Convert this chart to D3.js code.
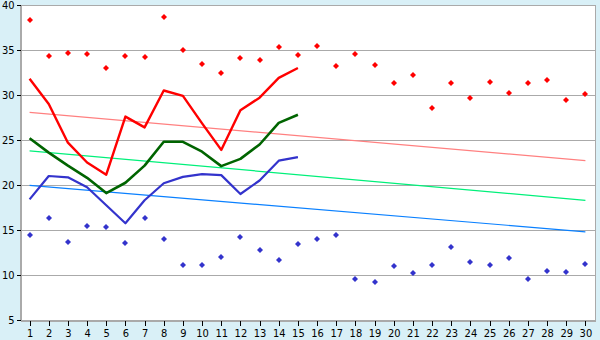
<!DOCTYPE html>
<html>
<head>
<meta charset="utf-8">
<script src="https://cdn.jsdelivr.net/npm/d3@7"></script>
<style>
  body { margin: 0; background: #d9f0f7; }
  svg { display: block; }
  .tick text { font-family: "DejaVu Sans Condensed", "DejaVu Sans", sans-serif; font-size: 11px; fill: #000; }
</style>
</head>
<body>
<div id="chart"></div>
<script>
// days on the x axis
var days = d3.range(1, 31);

// scattered highs and lows (30 days)
var highPoints = [38.3, 34.3, 34.7, 34.6, 33.0, 34.3, 34.2, 38.7, 35.0, 33.4,
                  32.5, 34.1, 33.85, 35.3, 34.5, 35.5, 33.2, 34.6, 33.3, 31.3,
                  32.2, 28.6, 31.3, 29.7, 31.5, 30.2, 31.3, 31.7, 29.4, 30.1];
var lowPoints = [14.5, 16.3, 13.7, 15.5, 15.3, 13.6, 16.3, 14.0, 11.1, 11.1,
                 11.97, 14.2, 12.75, 11.63, 13.5, 13.97, 14.4, 9.52, 9.2, 10.97,
                 10.2, 11.1, 13.1, 11.4, 11.1, 11.85, 9.6, 10.4, 10.3, 11.2];

// lines for the first 15 days
var redLine = [31.8, 29.0, 24.7, 22.5, 21.15, 27.6, 26.4, 30.5, 29.9, 26.85,
               23.9, 28.3, 29.7, 31.9, 33.0];
var greenLine = [25.2, 23.6, 22.15, 20.8, 19.1, 20.25, 22.15, 24.8, 24.8, 23.7,
                 22.1, 22.9, 24.5, 26.9, 27.8];
var blueLine = [18.4, 21.0, 20.85, 19.75, 17.75, 15.75, 18.3, 20.2, 20.9, 21.2,
                21.1, 19.0, 20.5, 22.7, 23.1];

// trend lines: value at day 1 and day 30
var trendDays = [1, 30];
var redTrend = [28.07, 22.7];
var greenTrend = [23.8, 18.3];
var blueTrend = [19.95, 14.8];

var yTicks = [5, 10, 15, 20, 25, 30, 35, 40];

var width = 600, height = 340;
var margin = {top: 5, right: 5, bottom: 20, left: 20};

var svg = d3.select("#chart").append("svg")
    .attr("width", width)
    .attr("height", height);

var x = d3.scaleLinear()
    .domain([0.5, 30.5])
    .range([margin.left, width - margin.right]);
var y = d3.scaleLinear()
    .domain([5, 40])
    .range([height - margin.bottom, margin.top]);

// plot background
svg.append("rect")
    .attr("x", margin.left)
    .attr("y", margin.top)
    .attr("width", width - margin.left - margin.right)
    .attr("height", height - margin.top - margin.bottom)
    .attr("fill", "#fff")
    .attr("stroke", "#aaa")
    .attr("shape-rendering", "crispEdges");

// gridlines
svg.append("g")
    .selectAll("line")
    .data(yTicks)
    .enter()
    .append("line")
        .attr("x1", margin.left)
        .attr("x2", width - margin.right)
        .attr("y1", function(d) { return Math.round(y(d)) + 0.5; })
        .attr("y2", function(d) { return Math.round(y(d)) + 0.5; })
        .attr("stroke", "#aaa")
        .attr("shape-rendering", "crispEdges");

// axes
var xAxis = svg.append("g")
    .attr("transform", "translate(0," + (height - margin.bottom + 0.5) + ")")
    .call(d3.axisBottom(x).tickValues(days).tickSize(5).tickPadding(4).tickSizeOuter(0));
var yAxis = svg.append("g")
    .attr("transform", "translate(" + (margin.left + 0.5) + ",0)")
    .call(d3.axisLeft(y).tickValues(yTicks).tickSize(4).tickPadding(2).tickSizeOuter(0));
[xAxis, yAxis].forEach(function(a) {
    a.select(".domain").attr("stroke", "#aaa").attr("shape-rendering", "crispEdges");
    a.selectAll(".tick line").attr("stroke", "#000").attr("shape-rendering", "crispEdges");
});

// trend lines
var trends = [
    {vals: redTrend, color: "#ff8080"},
    {vals: greenTrend, color: "#00f07a"},
    {vals: blueTrend, color: "#0a80ff"}
];
trends.forEach(function(t) {
    svg.append("line")
        .attr("x1", x(trendDays[0]))
        .attr("x2", x(trendDays[1]))
        .attr("y1", y(t.vals[0]))
        .attr("y2", y(t.vals[1]))
        .attr("stroke", t.color)
        .attr("stroke-width", 1.2);
});

// main lines
var line = d3.line()
    .x(function(d, i) { return x(days[i]); })
    .y(function(d) { return y(d); });
var lines = [
    {vals: redLine, color: "#ff0000", w: 2.4},
    {vals: greenLine, color: "#006400", w: 2.6},
    {vals: blueLine, color: "#3333cc", w: 2.2}
];
lines.forEach(function(l) {
    svg.append("path")
        .datum(l.vals)
        .attr("fill", "none")
        .attr("stroke", l.color)
        .attr("stroke-width", l.w)
        .attr("stroke-linejoin", "round")
        .attr("d", line);
});

// point markers (small pixel diamond)
var marker = "M-0.5,-3h1v1h1v1h1v2h-1v1h-1v1h-1v-1h-1v-1h-1v-2h1v-1h1z";
[{vals: highPoints, color: "#ff0000"}, {vals: lowPoints, color: "#3333cc"}].forEach(function(s) {
    svg.append("g")
        .selectAll("path")
        .data(s.vals)
        .enter()
        .append("path")
            .attr("d", marker)
            .attr("transform", function(d, i) {
                return "translate(" + (Math.round(x(days[i]))) + "," + (Math.round(y(d))) + ")";
            })
            .attr("fill", s.color);
});
</script>
</body>
</html>
